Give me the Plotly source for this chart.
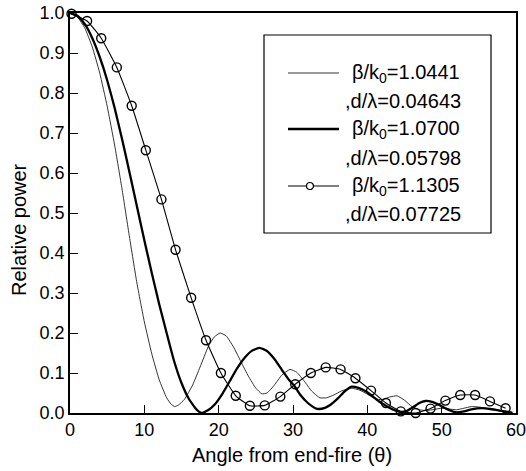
import plotly.graph_objects as go

# ---- data ----
theta_a = [0, 1, 2, 3, 4, 5, 6, 7, 8, 9, 10, 11, 12, 13, 13.6, 14.1, 14.6, 15.4, 16.5, 17.5,
           18.6, 19.4, 20.2, 21, 22, 23, 24, 25, 25.8, 26.5, 27.5, 28.5, 29.6, 30.5, 31.5,
           32.5, 33.6, 34.5, 35.5, 36.5, 37.9, 39, 40, 41, 42, 43, 44, 45, 46, 47, 48, 49,
           50, 51, 52, 53, 54, 55, 56, 57, 58, 59, 59.6]
power_a = [1.0, 0.99, 0.962, 0.915, 0.85, 0.767, 0.67, 0.56, 0.44, 0.325, 0.228, 0.148,
           0.083, 0.038, 0.022, 0.016, 0.02, 0.034, 0.07, 0.115, 0.166, 0.19, 0.2, 0.193,
           0.165, 0.128, 0.092, 0.062, 0.048, 0.05, 0.07, 0.095, 0.109, 0.102, 0.08, 0.055,
           0.038, 0.038, 0.045, 0.055, 0.062, 0.057, 0.047, 0.036, 0.033, 0.04, 0.043, 0.032,
           0.016, 0.008, 0.006, 0.009, 0.012, 0.01, 0.008, 0.012, 0.016, 0.015, 0.012, 0.008,
           0.004, 0.001, 0.0]

theta_b = [0, 1, 2, 3, 4, 5, 6, 7, 8, 9, 10, 11, 12, 13, 14, 15, 16, 17, 17.7, 18.5, 19.5,
           20.5, 21.5, 22.5, 23.5, 24.5, 25.5, 26.5, 27.5, 28.5, 29.5, 30.1, 31, 32, 33, 33.5,
           34.3, 35, 36, 37, 37.9, 38.8, 39.6, 40.5, 41.5, 42.5, 43.5, 44.4, 45.3, 46.2, 47,
           47.8, 48.7, 49.6, 50.6, 51.8, 53, 54, 55.4, 56.5, 57.5, 58.5, 59.5]
power_b = [1.0, 0.993, 0.972, 0.937, 0.89, 0.832, 0.763, 0.685, 0.602, 0.517, 0.432, 0.35,
           0.272, 0.2, 0.13, 0.075, 0.035, 0.009, 0.0, 0.006, 0.022, 0.048, 0.08, 0.112,
           0.138, 0.156, 0.163, 0.155, 0.135, 0.108, 0.082, 0.07, 0.045, 0.025, 0.012, 0.01,
           0.013, 0.02, 0.036, 0.055, 0.066, 0.063, 0.056, 0.045, 0.03, 0.018, 0.008, 0.003,
           0.005, 0.015, 0.025, 0.03, 0.028, 0.021, 0.011, 0.002, 0.004, 0.009, 0.012, 0.01,
           0.007, 0.004, 0.001]

theta_c = [0.2, 2.3, 4.2, 6.3, 8.3, 10.2, 12.3, 14.2, 16.3, 18.3, 20.3, 22.3, 24.2, 26.2,
           28.3, 30.3, 32.4, 34.4, 36.4, 38.4, 40.5, 42.5, 44.5, 46.5, 48.5, 50.5, 52.5,
           54.5, 56.5, 58.6]
power_c = [0.998, 0.98, 0.937, 0.864, 0.768, 0.657, 0.534, 0.408, 0.288, 0.182, 0.10, 0.043,
           0.018, 0.019, 0.041, 0.072, 0.10, 0.114, 0.109, 0.087, 0.056, 0.025, 0.004, 0.0,
           0.011, 0.031, 0.045, 0.045, 0.029, 0.012]

legend_lines = ["β/k<sub>0</sub>=1.0441", ",d/λ=0.04643",
                "β/k<sub>0</sub>=1.0700", ",d/λ=0.05798",
                "β/k<sub>0</sub>=1.1305", ",d/λ=0.07725"]
x_ticks = [0, 10, 20, 30, 40, 50, 60]
y_ticks = [0.0, 0.1, 0.2, 0.3, 0.4, 0.5, 0.6, 0.7, 0.8, 0.9, 1.0]

# ---- layout geometry (pixels) ----
W, H = 526, 471
L, R, T, B = 70, 10, 13, 58
pw, ph = W - L - R, H - T - B


def px(x):
    return (x - L) / pw


def py(y):
    return (H - B - y) / ph


FONT = "Liberation Sans, Arial, Helvetica, sans-serif"

fig = go.Figure()
fig.add_trace(go.Scatter(x=theta_a, y=power_a, mode="lines",
                         line=dict(color="black", width=0.8, shape="spline", smoothing=0.4),
                         showlegend=False, cliponaxis=False))
fig.add_trace(go.Scatter(x=theta_b, y=power_b, mode="lines",
                         line=dict(color="black", width=2.3, shape="spline", smoothing=0.4),
                         showlegend=False, cliponaxis=False))
fig.add_trace(go.Scatter(x=theta_c, y=power_c, mode="lines+markers",
                         line=dict(color="black", width=1.1, shape="spline", smoothing=0.4),
                         marker=dict(symbol="circle-open", size=9, color="black", line=dict(width=1.4)),
                         showlegend=False, cliponaxis=False))

shapes = []
annotations = []
# legend box
shapes.append(dict(type="rect", xref="paper", yref="paper", x0=px(264), x1=px(491), y0=py(233), y1=py(35),
                   line=dict(color="black", width=1.2), fillcolor="white", layer="below"))
rows = [73, 101, 129, 158, 186, 214]
for i, txt in enumerate(legend_lines):
    xs = 350 if i % 2 == 0 else 343
    annotations.append(dict(xref="paper", yref="paper", x=px(xs), y=py(rows[i]), text=txt, showarrow=False,
                            xanchor="left", yanchor="middle", font=dict(family=FONT, size=20, color="black")))
widths = [0.8, 2.3, 1.1]
for j in range(3):
    yy = rows[2 * j]
    shapes.append(dict(type="line", xref="paper", yref="paper", x0=px(288), x1=px(339), y0=py(yy), y1=py(yy),
                       line=dict(color="black", width=widths[j])))
# legend circle
shapes.append(dict(type="circle", xref="paper", yref="paper", x0=px(310 - 3.5), x1=px(310 + 3.5),
                   y0=py(yy + 3.5), y1=py(yy - 3.5), line=dict(color="black", width=1.2), fillcolor="white"))

annotations.append(dict(xref="paper", yref="paper", x=px(19), y=py(230), text="Relative power", showarrow=False,
                        textangle=-90, xanchor="center", yanchor="middle",
                        font=dict(family=FONT, size=20, color="black")))
annotations.append(dict(xref="paper", yref="paper", x=px(292), y=py(455), text="Angle from end-fire (θ)",
                        showarrow=False, xanchor="center", yanchor="middle",
                        font=dict(family=FONT, size=20, color="black")))

fig.update_layout(
    width=W, height=H, margin=dict(l=L, r=R, t=T, b=B, autoexpand=False),
    paper_bgcolor="white", plot_bgcolor="white",
    shapes=shapes, annotations=annotations, showlegend=False,
    font=dict(family=FONT, color="black"),
)
fig.update_xaxes(range=[0, 60], tickvals=x_ticks, ticktext=[str(v) for v in x_ticks], ticks="inside", ticklen=8,
                 tickwidth=1.2, tickcolor="black", showline=True, linecolor="black", linewidth=1.5, mirror=True,
                 showgrid=False, zeroline=False, automargin=False, ticklabeloverflow="allow",
                 tickfont=dict(family=FONT, size=18, color="black"))
fig.update_yaxes(range=[0, 1.0], tickvals=y_ticks, ticktext=["%.1f" % v for v in y_ticks], ticks="inside",
                 ticklen=8, tickwidth=1.2, tickcolor="black", showline=True, linecolor="black", linewidth=1.5,
                 mirror=True, showgrid=False, zeroline=False, automargin=False, ticklabeloverflow="allow",
                 tickfont=dict(family=FONT, size=18, color="black"))

fig.write_html("out.html", config={"displayModeBar": False},
               post_script="document.body.style.margin='0';document.body.style.overflow='hidden';")
